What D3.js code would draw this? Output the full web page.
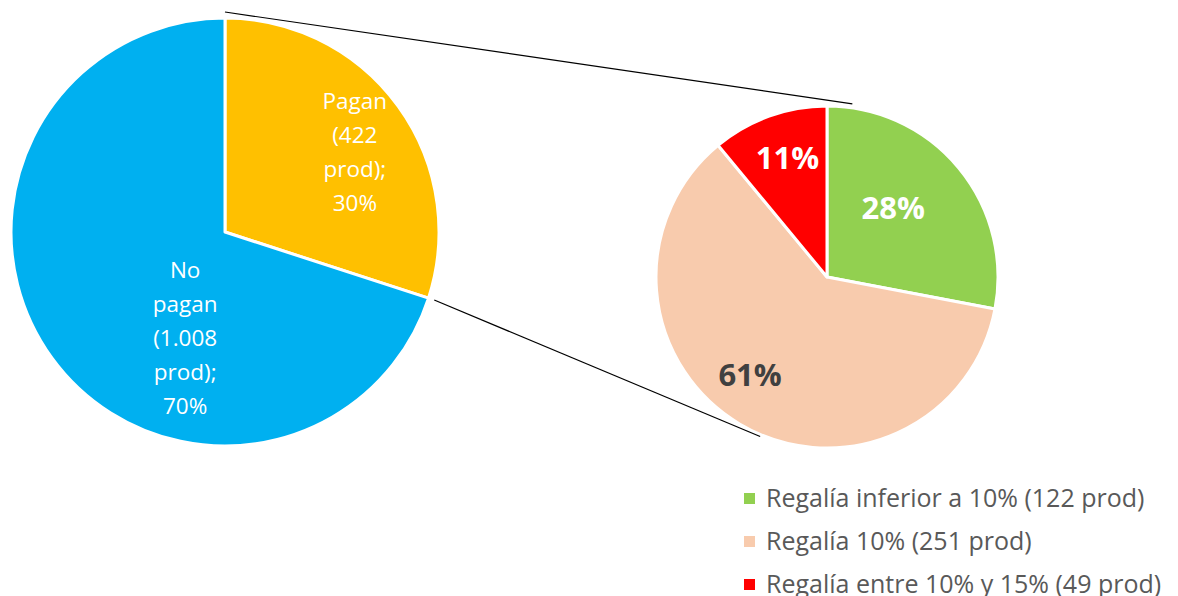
<!DOCTYPE html>
<html>
<head>
<meta charset="utf-8">
<script src="https://cdn.jsdelivr.net/npm/d3@7"></script>
<style>
  body { margin: 0; background: #fff; }
  svg { display: block; font-family: "Open Sans", sans-serif; }
</style>
</head>
<body>
<svg id="chart"></svg>
<script>
// main pie: who pays royalties
var mainLabels = [["Pagan", "(422", "prod);", "30%"], ["No", "pagan", "(1.008", "prod);", "70%"]];
var mainValues = [30, 70];
var mainColors = ["#FFC000", "#00B0F0"];

// secondary pie: breakdown of "Pagan"
var subNames = ["Regalía inferior a 10% (122 prod)", "Regalía 10% (251 prod)", "Regalía entre 10% y 15% (49 prod)"];
var subValues = [28, 61, 11];
var subColors = ["#92D050", "#F8CBAD", "#FF0000"];
var subTextColors = ["#fff", "#404040", "#fff"];

var width = 1178, height = 596;
var svg = d3.select("#chart").attr("width", width).attr("height", height);

var left = { cx: 225, cy: 232, r: 214 };
var right = { cx: 827, cy: 277, r: 171 };

var pie = d3.pie().sort(null).value(d => d);

// left pie
var mainArcs = pie(mainValues);
var mainArc = d3.arc().innerRadius(0).outerRadius(left.r);
var gl = svg.append("g").attr("transform", "translate(" + left.cx + "," + left.cy + ")");
gl.selectAll("path")
  .data(mainArcs)
  .enter().append("path")
    .attr("d", mainArc)
    .attr("fill", (d, i) => mainColors[i])
    .attr("stroke", "#fff")
    .attr("stroke-width", 3)
    .attr("stroke-linejoin", "round");

// label nudges from arc centroid (layout only)
var mainNudge = [[0, 14], [90, 12]];
var mainLabelArc = d3.arc().innerRadius(left.r * 0.75).outerRadius(left.r * 0.75);
gl.selectAll(".main-label")
  .data(mainArcs)
  .enter().append("text")
    .classed("main-label", true)
    .attr("fill", "#fff")
    .attr("font-size", 22.5)
    .attr("text-anchor", "middle")
    .each(function(d, i) {
      var c = mainLabelArc.centroid(d);
      var lines = mainLabels[i];
      var lh = 34;
      var x = c[0] + mainNudge[i][0];
      var y0 = c[1] + mainNudge[i][1] - (lines.length - 1) * lh / 2;
      d3.select(this).selectAll("tspan")
        .data(lines)
        .enter().append("tspan")
          .attr("x", x)
          .attr("y", (t, j) => y0 + j * lh)
          .attr("dy", "0.35em")
          .text(t => t);
    });

// right pie
var subArcs = pie(subValues);
var subArc = d3.arc().innerRadius(0).outerRadius(right.r);
var gr = svg.append("g").attr("transform", "translate(" + right.cx + "," + right.cy + ")");
gr.selectAll("path")
  .data(subArcs)
  .enter().append("path")
    .attr("d", subArc)
    .attr("fill", (d, i) => subColors[i])
    .attr("stroke", "#fff")
    .attr("stroke-width", 3)
    .attr("stroke-linejoin", "round");

var subNudge = [[-26, 7], [-16, -5], [1, -6]];
var subLabelArc = d3.arc().innerRadius(right.r * 0.7).outerRadius(right.r * 0.7);
gr.selectAll(".sub-label")
  .data(subArcs)
  .enter().append("text")
    .attr("x", (d, i) => subLabelArc.centroid(d)[0] + subNudge[i][0])
    .attr("y", (d, i) => subLabelArc.centroid(d)[1] + subNudge[i][1])
    .attr("dy", "0.35em")
    .attr("text-anchor", "middle")
    .attr("font-size", 31)
    .attr("font-weight", "bold")
    .attr("fill", (d, i) => subTextColors[i])
    .text(d => d.value + "%");

// connector lines: from the "Pagan" slice edges, tangent to the right pie
function polar(c, rad, a) {
  return [c.cx + rad * Math.sin(a), c.cy - rad * Math.cos(a)];
}
function tangent(p, c, rad, side) {
  var dx = p[0] - c.cx, dy = p[1] - c.cy;
  var d = Math.sqrt(dx * dx + dy * dy);
  var base = Math.atan2(dy, dx);
  var a = base + side * Math.acos(rad / d);
  return [c.cx + rad * Math.cos(a), c.cy + rad * Math.sin(a)];
}
var pagan = mainArcs[0];
var p1 = polar(left, left.r + 6, pagan.startAngle);
var p2 = polar(left, left.r + 6, pagan.endAngle);
var lines = [[p1, tangent(p1, right, right.r + 4, 1)], [p2, tangent(p2, right, right.r + 2, -1)]];
svg.selectAll(".connector")
  .data(lines)
  .enter().append("line")
    .classed("connector", true)
    .attr("x1", d => d[0][0])
    .attr("y1", d => d[0][1])
    .attr("x2", d => d[1][0])
    .attr("y2", d => d[1][1])
    .attr("stroke", "#000")
    .attr("stroke-width", 1.2);

// legend
var legend = svg.append("g").attr("transform", "translate(744, 498.5)");
var item = legend.selectAll(".item")
  .data(subNames)
  .enter().append("g")
    .attr("transform", (d, i) => "translate(0," + i * 43 + ")");
item.append("rect")
  .attr("x", 0)
  .attr("y", -5.5)
  .attr("width", 11)
  .attr("height", 11)
  .attr("fill", (d, i) => subColors[i]);
item.append("text")
  .attr("x", 22)
  .attr("dy", "0.35em")
  .attr("font-size", 25)
  .attr("fill", "#595959")
  .text(d => d);
</script>
</body>
</html>
